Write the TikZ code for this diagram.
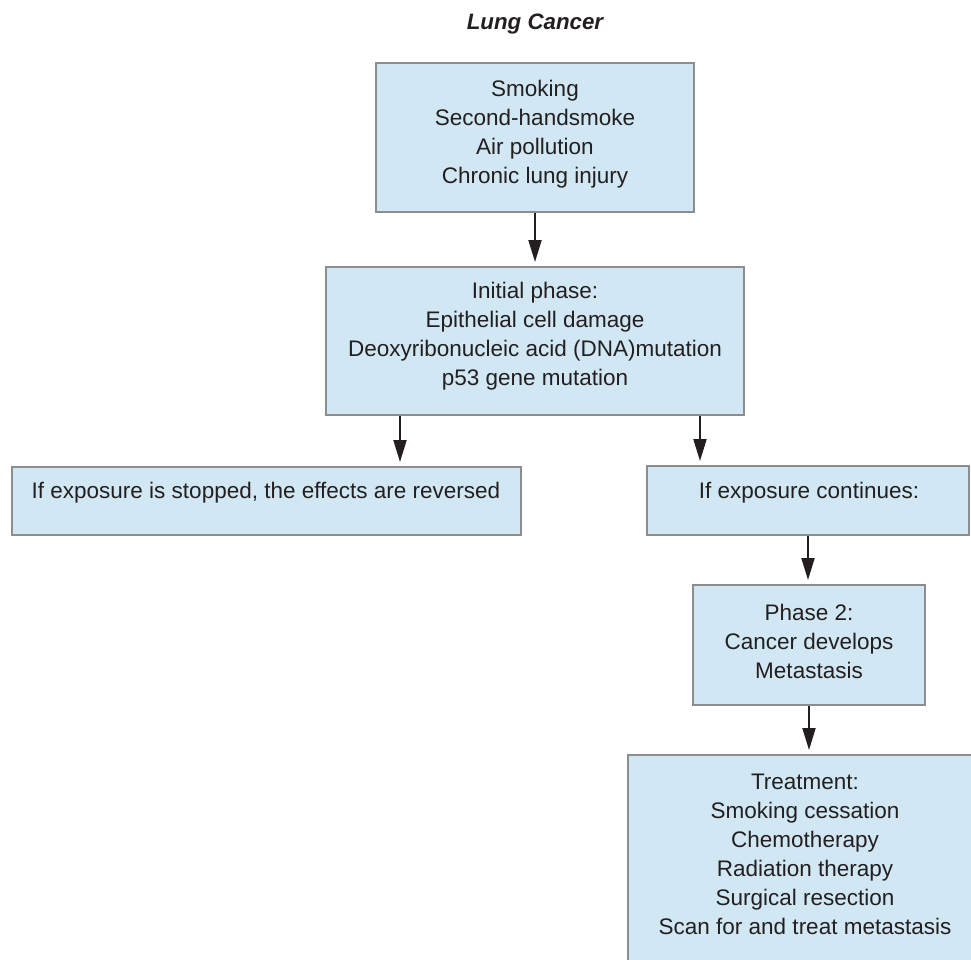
\documentclass[tikz,border=0pt]{standalone}
\usepackage{fontspec}
\setmainfont{Liberation Sans}
\usetikzlibrary{arrows.meta}
\definecolor{boxfill}{HTML}{D1E8F4}
\definecolor{boxline}{HTML}{8C8D8F}
\definecolor{ink}{HTML}{231F20}
\begin{document}
\begin{tikzpicture}[x=1pt,y=-1pt,
  box/.style={draw=boxline,fill=boxfill,line width=2pt,rectangle,inner sep=0pt},
  txt/.style={align=center,font=\fontsize{22.5}{29}\selectfont,text=ink,inner sep=0pt},
  arr/.style={-{Triangle[length=22pt,width=13pt]},line width=2pt,draw=ink,shorten >=4pt}]
\useasboundingbox (0,0) rectangle (971,960);
% boxes
\node[box,minimum width=318pt,minimum height=149pt] (b1) at (535,137.5) {};
\node[box,minimum width=418pt,minimum height=148pt] (b2) at (535,341) {};
\node[box,minimum width=509pt,minimum height=68pt] (b3) at (266.5,501) {};
\node[box,minimum width=322pt,minimum height=69pt] (b4) at (808,500.5) {};
\node[box,minimum width=232pt,minimum height=120pt] (b5) at (809,645) {};
\node[box,minimum width=354pt,minimum height=220pt] (b6) at (805,865) {};
% texts
\node[txt,font=\fontsize{22.3}{27}\selectfont\bfseries\itshape] (title) at (535,24) {Lung Cancer};
\node[txt] (t1) at (535,134) {Smoking\\Second-handsmoke\\Air pollution\\Chronic lung injury};
\node[txt] (t2) at (535,336.5) {Initial phase:\\Epithelial cell damage\\Deoxyribonucleic acid (DNA)mutation\\p53 gene mutation};
\node[txt] (t3) at (266,493) {If exposure is stopped, the effects are reversed};
\node[txt] (t4) at (809,493) {If exposure continues:};
\node[txt] (t5) at (809,641) {Phase 2:\\Cancer develops\\Metastasis};
\node[txt] (t6) at (805,854) {Treatment:\\Smoking cessation\\Chemotherapy\\Radiation therapy\\Surgical resection\\Scan for and treat metastasis};
% connectors
\coordinate (s1) at ([xshift=-135pt]b2.south);
\coordinate (s2) at ([xshift=165pt]b2.south);
\draw[arr] (b1.south) -- (b2.north);
\draw[arr] (s1) -- (s1 |- b3.north);
\draw[arr] (s2) -- (s2 |- b4.north);
\draw[arr] (b4.south) -- (b4.south |- b5.north);
\draw[arr] (b5.south) -- (b5.south |- b6.north);
\end{tikzpicture}
\end{document}
